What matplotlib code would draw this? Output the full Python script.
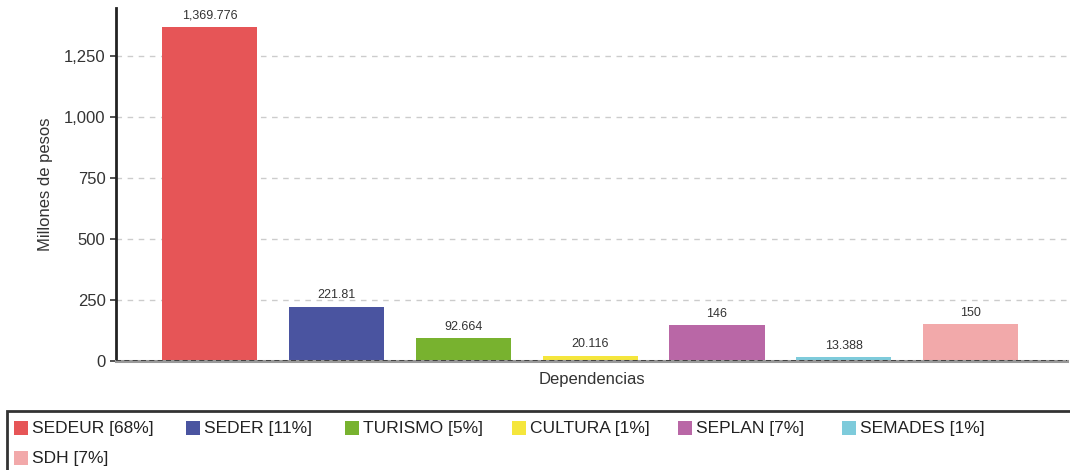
import matplotlib
matplotlib.use("Agg")
import matplotlib.pyplot as plt
from matplotlib.patches import Rectangle

plt.rcParams['font.family'] = ['Liberation Sans', 'DejaVu Sans']

categories = ["SEDEUR", "SEDER", "TURISMO", "CULTURA", "SEPLAN", "SEMADES", "SDH"]
values = [1369.776, 221.81, 92.664, 20.116, 146, 13.388, 150]
percents = [68, 11, 5, 1, 7, 1, 7]
colors = ["#E65557", "#4A54A0", "#78B22F", "#F5E63C", "#B967A6", "#7ECBDB", "#F2A9AA"]
yticks = [0, 250, 500, 750, 1000, 1250]

W, H = 1070, 470
fig = plt.figure(figsize=(W / 100, H / 100), dpi=100)
ax = fig.add_axes([116 / W, (H - 360.7) / H, (1067 - 116) / W, (360.7 - 8.3) / H])

x = list(range(len(categories)))
ax.bar(x, values, width=0.75, color=colors, zorder=3)
for xi, v in zip(x, values):
    lab = f"{v:,.3f}".rstrip('0').rstrip('.')
    ax.annotate(lab, (xi, v), xytext=(0, 4), textcoords='offset points',
                ha='center', va='bottom', fontsize=9, color='#333333')

ax.set_xlim(-0.74, 6.76)
ax.set_ylim(0, 1445)
ax.set_yticks(yticks)
ax.set_yticklabels([f"{t:,}" for t in yticks], fontsize=12, color='#333333')
ax.set_xticks([])
ax.tick_params(axis='y', length=4, width=1.2, color='#333333', direction='out')
ax.yaxis.grid(True, linestyle=(0, (4, 4)), color='#cccccc', linewidth=1, zorder=0)
for s in ['top', 'right']:
    ax.spines[s].set_visible(False)
ax.spines['left'].set_linewidth(2)
ax.spines['left'].set_color('#222222')
ax.spines['bottom'].set_linewidth(2.2)
ax.spines['bottom'].set_color('#999999')
ax.spines['bottom'].set_zorder(4)
ax.axhline(0, color='#333333', linewidth=1.2, linestyle=(0, (3, 2)), zorder=5)

ax.set_ylabel("Millones de pesos", fontsize=12, color='#333333', labelpad=8)
ax.set_xlabel("Dependencias", fontsize=12, color='#333333', labelpad=8)

# Legend box
fig.patches.append(Rectangle((7 / W, -0.05), 1.2, (H - 411) / H + 0.05,
                             transform=fig.transFigure, fill=False,
                             edgecolor='#333333', linewidth=2))
col_x = [14, 186, 345, 512, 678, 842]
row_y = [428, 458]
for i, (c, p, col) in enumerate(zip(categories, percents, colors)):
    r = i // 6
    cidx = i % 6
    x0 = col_x[cidx]
    y0 = row_y[r]
    fig.patches.append(Rectangle((x0 / W, (H - y0 - 7) / H), 14 / W, 14 / H,
                                 transform=fig.transFigure, facecolor=col,
                                 edgecolor='none'))
    fig.text((x0 + 18) / W, (H - y0) / H, f"{c} [{p}%]", fontsize=12.5,
             color='#222222', va='center', ha='left')

fig.savefig("out.png", dpi=100)
